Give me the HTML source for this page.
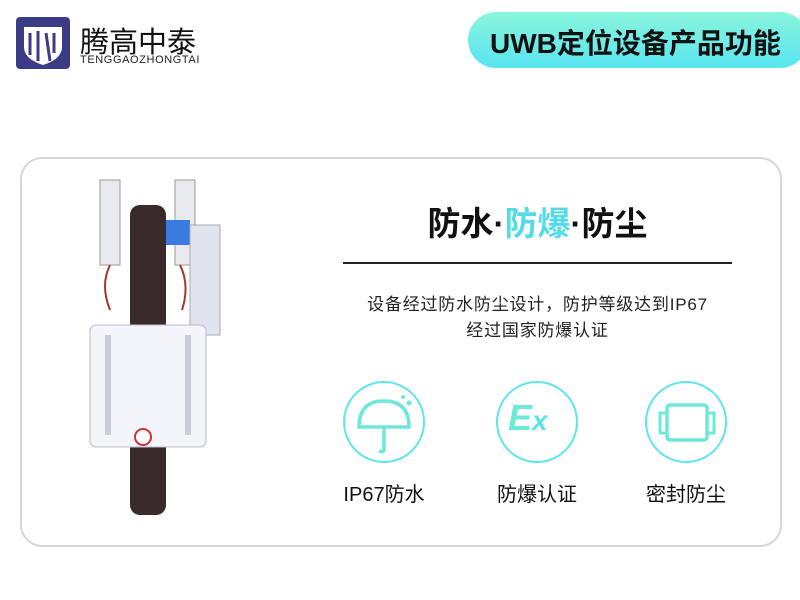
<!DOCTYPE html>
<html><head><meta charset="utf-8"><style>
body{margin:0;width:800px;height:600px;background:#fff;position:relative;overflow:hidden;font-family:"Liberation Sans","Noto Sans CJK SC",sans-serif;}
.a{position:absolute}
.c{position:absolute;width:78px;height:78px;border:2px solid #5ce6ee;border-radius:50%}
.l{position:absolute;font-size:20px;color:#111;width:140px;text-align:center}
</style></head><body>
<div class="a" style="left:16px;top:17px;width:54px;height:52px;background:#3c3b86;border-radius:4px"></div>
<svg class="a" style="left:16px;top:17px" width="54" height="52"><path d="M8 10 H46 V30 Q46 42 27 48 Q8 42 8 30Z" fill="#fff"/><path d="M14 16 V38 M22 14 V44 M30 16 L34 44 M38 16 V36" stroke="#3c3b86" stroke-width="3" fill="none"/></svg>
<div class="a" style="left:80px;top:19px;font-size:29px;color:#111">腾高中泰</div>
<div class="a" style="left:80px;top:54px;font-size:11px;letter-spacing:0.6px;color:#222">TENGGAOZHONGTAI</div>
<div class="a" style="left:468px;top:12px;width:340px;height:56px;border-radius:28px;background:linear-gradient(180deg,#8af5dc,#58e4f0)"></div>
<div class="a" style="left:490px;top:22px;font-size:28px;font-weight:bold;color:#111">UWB定位设备产品功能</div>
<div class="a" style="left:20px;top:157px;width:758px;height:386px;border:2px solid #d6d6d6;border-radius:22px"></div>
<svg class="a" style="left:70px;top:175px" width="180" height="340">
<rect x="30" y="5" width="20" height="85" fill="#e8eaf0" stroke="#999"/>
<rect x="105" y="5" width="20" height="85" fill="#e8eaf0" stroke="#999"/>
<rect x="90" y="45" width="30" height="25" fill="#3a7be0"/>
<rect x="120" y="50" width="30" height="110" fill="#dfe4ef" stroke="#aaa"/>
<rect x="60" y="30" width="36" height="310" rx="10" fill="#3a2a2a"/>
<rect x="20" y="150" width="116" height="122" rx="6" fill="#f3f5fb" stroke="#b8bccc"/>
<rect x="35" y="160" width="6" height="100" fill="#c9cdd8"/><rect x="115" y="160" width="6" height="100" fill="#c9cdd8"/>
<circle cx="73" cy="262" r="8" fill="#fff" stroke="#c33" stroke-width="2"/>
<path d="M40 90 Q30 110 40 135 M110 90 Q120 110 112 135" stroke="#a33" stroke-width="2" fill="none"/>
</svg>
<div class="a" style="left:343px;top:197px;width:389px;text-align:center;font-size:33px;font-weight:bold;color:#111">防水·<span style="color:#55dbe8">防爆</span>·防尘</div>
<div class="a" style="left:343px;top:262px;width:389px;height:2px;background:#222"></div>
<div class="a" style="left:333px;top:292px;width:409px;text-align:center;font-size:17px;letter-spacing:0.8px;line-height:26px;color:#222">设备经过防水防尘设计，防护等级达到IP67<br>经过国家防爆认证</div>
<div class="c" style="left:343px;top:381px"></div>
<div class="c" style="left:496px;top:381px"></div>
<div class="c" style="left:645px;top:381px"></div>
<svg class="a" style="left:343px;top:381px" width="82" height="82"><path d="M16 46 Q16 20 41 20 Q66 20 66 46Z M41 46 V68 Q41 72 36 70" stroke="#6ee8d8" stroke-width="3.5" fill="none"/><circle cx="60" cy="16" r="2" fill="#6ee8d8"/><circle cx="66" cy="22" r="2.5" fill="#6ee8d8"/></svg>
<div class="a" style="left:508px;top:398px;font-size:36px;line-height:40px;font-weight:bold;font-style:italic;color:#6cead8">E<span style="font-size:28px;color:#5ae4ea">x</span></div>
<svg class="a" style="left:645px;top:381px" width="82" height="82"><rect x="22" y="24" width="40" height="35" rx="3" stroke="#6ee8d8" stroke-width="3.5" fill="none"/><rect x="15" y="32" width="7" height="20" stroke="#6ee8d8" stroke-width="3" fill="none"/><rect x="62" y="32" width="7" height="20" stroke="#6ee8d8" stroke-width="3" fill="none"/></svg>
<div class="l" style="left:314px;top:478px">IP67防水</div>
<div class="l" style="left:467px;top:478px">防爆认证</div>
<div class="l" style="left:616px;top:478px">密封防尘</div>
</body></html>
